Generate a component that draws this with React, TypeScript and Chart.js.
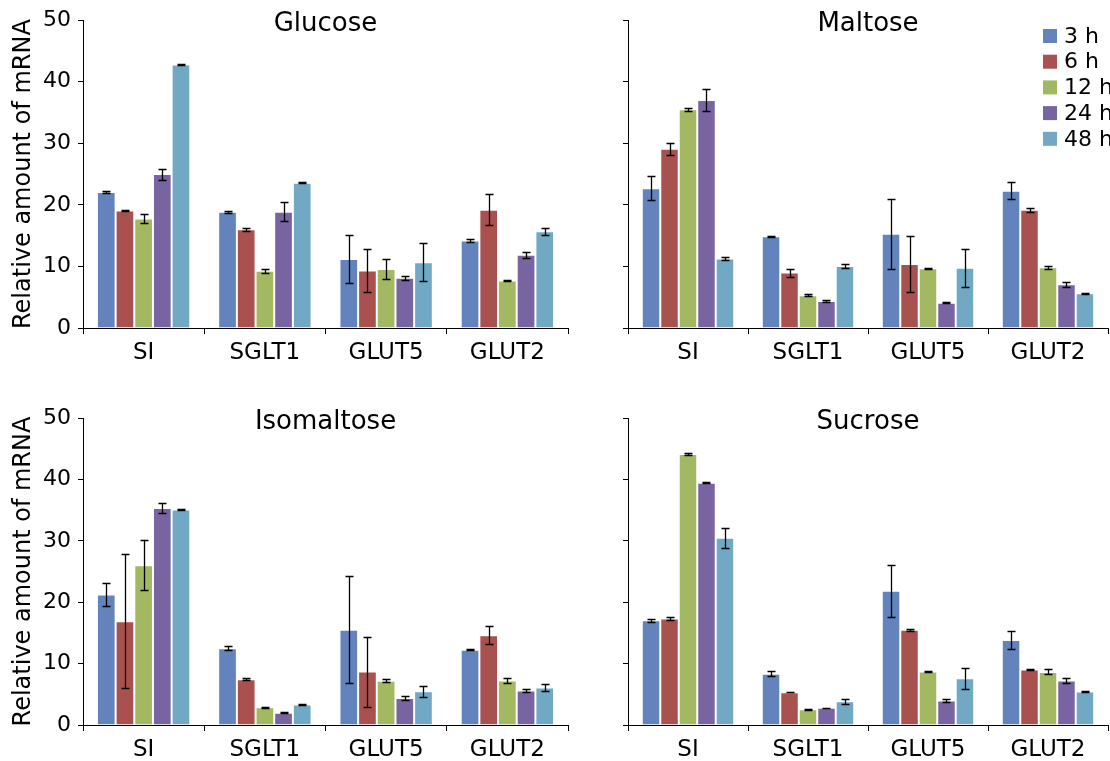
import React, { useEffect, useRef } from "react";
import { Chart, registerables } from "chart.js";

Chart.register(...registerables);

const FONT = "'DejaVu Sans', Verdana, sans-serif";

const genes = ["SI", "SGLT1", "GLUT5", "GLUT2"];
const timePoints = ["3 h", "6 h", "12 h", "24 h", "48 h"];
const seriesColors = ["#6283BC", "#A9514F", "#A3B961", "#7864A0", "#71A9C5"];
const yAxisTitle = "Relative amount of mRNA";
const yMin = 0;
const yMax = 50;
const yStep = 10;

// rows = time points (3, 6, 12, 24, 48 h); columns = genes (SI, SGLT1, GLUT5, GLUT2)
const glucoseMeans = [
  [22.1, 18.9, 11.2, 14.2],
  [19.1, 16.05, 9.35, 19.2],
  [17.8, 9.3, 9.6, 7.7],
  [25.0, 18.9, 8.15, 11.9],
  [42.8, 23.6, 10.7, 15.7],
];
const glucoseErrors = [
  [0.15, 0.15, 3.9, 0.3],
  [0.1, 0.25, 3.5, 2.5],
  [0.7, 0.35, 1.65, 0.1],
  [0.9, 1.55, 0.35, 0.5],
  [0.1, 0.1, 3.1, 0.6],
];

const maltoseMeans = [
  [22.7, 14.9, 15.3, 22.3],
  [29.1, 9.0, 10.4, 19.2],
  [35.5, 5.3, 9.7, 9.85],
  [37.0, 4.4, 4.1, 7.1],
  [11.3, 10.05, 9.8, 5.65],
];
const maltoseErrors = [
  [1.95, 0.05, 5.7, 1.4],
  [1.0, 0.65, 4.6, 0.35],
  [0.25, 0.15, 0.05, 0.27],
  [1.8, 0.15, 0.1, 0.4],
  [0.27, 0.35, 3.1, 0.1],
];

const isomaltoseMeans = [
  [21.25, 12.5, 15.5, 12.25],
  [16.9, 7.45, 8.7, 14.6],
  [26.0, 2.9, 7.2, 7.25],
  [35.35, 2.0, 4.4, 5.6],
  [35.1, 3.35, 5.5, 6.1],
];
const isomaltoseErrors = [
  [1.9, 0.3, 8.7, 0.1],
  [10.9, 0.15, 5.7, 1.45],
  [4.05, 0.05, 0.27, 0.4],
  [0.8, 0.05, 0.25, 0.27],
  [0.1, 0.05, 0.9, 0.5],
];

const sucroseMeans = [
  [17.05, 8.35, 21.85, 13.85],
  [17.35, 5.35, 15.5, 9.05],
  [44.15, 2.55, 8.7, 8.65],
  [39.45, 2.8, 4.0, 7.25],
  [30.5, 3.85, 7.6, 5.45],
];
const sucroseErrors = [
  [0.2, 0.43, 4.2, 1.45],
  [0.3, 0.05, 0.15, 0.15],
  [0.1, 0.1, 0.05, 0.4],
  [0.1, 0.05, 0.27, 0.45],
  [1.65, 0.38, 1.7, 0.05],
];

const errorBarPlugin = {
  id: "errorBars",
  afterDatasetsDraw(chart: any) {
    const ctx = chart.ctx;
    const yScale = chart.scales.y;
    ctx.save();
    ctx.strokeStyle = "#000";
    ctx.lineWidth = 1.3;
    chart.data.datasets.forEach((ds: any, di: number) => {
      const meta = chart.getDatasetMeta(di);
      meta.data.forEach((bar: any, i: number) => {
        const v = ds.data[i];
        const e = ds.errors ? ds.errors[i] : 0;
        const yTop = Math.round(yScale.getPixelForValue(v + e)) + 0.5;
        const yBot = Math.round(yScale.getPixelForValue(v - e)) + 0.5;
        const x = Math.round(bar.x) + 0.5;
        const cap = 4;
        ctx.beginPath();
        ctx.moveTo(x, yTop);
        ctx.lineTo(x, yBot);
        ctx.moveTo(x - cap, yTop);
        ctx.lineTo(x + cap, yTop);
        ctx.moveTo(x - cap, yBot);
        ctx.lineTo(x + cap, yBot);
        ctx.stroke();
      });
    });
    ctx.restore();
  },
};

const panelTitlePlugin = {
  id: "panelTitle",
  afterDraw(chart: any, _args: any, opts: any) {
    if (!opts || !opts.text) return;
    const ctx = chart.ctx;
    const area = chart.chartArea;
    ctx.save();
    ctx.fillStyle = "#000";
    ctx.font = `26px ${FONT}`;
    ctx.textAlign = "center";
    ctx.textBaseline = "middle";
    ctx.fillText(opts.text, (area.left + area.right) / 2, area.top + 4);
    ctx.restore();
  },
};

const sideLegendPlugin = {
  id: "sideLegend",
  afterDraw(chart: any, _args: any, opts: any) {
    if (!opts || !opts.show) return;
    const ctx = chart.ctx;
    const area = chart.chartArea;
    ctx.save();
    ctx.font = `22px ${FONT}`;
    ctx.textBaseline = "middle";
    ctx.textAlign = "left";
    const x0 = area.right - 65;
    const y0 = area.top + 16;
    const box = 14;
    const rowH = 25.7;
    chart.data.datasets.forEach((ds: any, i: number) => {
      const cy = y0 + i * rowH;
      ctx.fillStyle = ds.backgroundColor;
      ctx.fillRect(x0, cy - box / 2, box, box);
      ctx.fillStyle = "#000";
      ctx.fillText(ds.label, x0 + 21, cy + 1);
    });
    ctx.restore();
  },
};

type PanelProps = {
  title: string;
  means: number[][];
  errors: number[][];
  left: number;
  top: number;
  width: number;
  height: number;
  yWidth: number;
  padTop: number;
  xHeight: number;
  showYLabels: boolean;
  showLegend: boolean;
};

function Panel(p: PanelProps) {
  const ref = useRef<HTMLCanvasElement | null>(null);
  useEffect(() => {
    if (!ref.current) return;
    const chart = new Chart(ref.current, {
      type: "bar",
      data: {
        labels: genes,
        datasets: timePoints.map((tp, i) => ({
          label: tp,
          data: p.means[i],
          errors: p.errors[i],
          backgroundColor: seriesColors[i],
          borderColor: "rgba(255,255,255,0.45)",
          borderWidth: 1,
          borderSkipped: "bottom",
          categoryPercentage: 0.77,
          barPercentage: 1.0,
        })) as any,
      },
      options: {
        animation: false,
        responsive: false,
        devicePixelRatio: 1,
        layout: { padding: { left: 0, right: 2, top: p.padTop, bottom: 0 } },
        plugins: {
          legend: { display: false },
          title: { display: false },
          tooltip: { enabled: false },
          panelTitle: { text: p.title },
          sideLegend: { show: p.showLegend },
        } as any,
        scales: {
          x: {
            offset: true,
            grid: {
              display: true,
              offset: true,
              drawOnChartArea: false,
              drawTicks: true,
              tickLength: 6,
              color: "#000",
            },
            border: { display: true, color: "#000", width: 1 },
            ticks: {
              color: "#000",
              font: { family: FONT, size: 23 },
              padding: 5,
              maxRotation: 0,
              autoSkip: false,
            },
            afterFit: (s: any) => {
              s.height = p.xHeight;
            },
          },
          y: {
            min: yMin,
            max: yMax,
            grid: {
              display: true,
              drawOnChartArea: false,
              drawTicks: true,
              tickLength: 5,
              color: "#000",
            },
            border: { display: true, color: "#000", width: 1 },
            ticks: {
              display: p.showYLabels,
              stepSize: yStep,
              color: "#000",
              font: { family: FONT, size: 22 },
              padding: 7,
            },
            title: {
              display: p.showYLabels,
              text: yAxisTitle,
              color: "#000",
              font: { family: FONT, size: 24 },
              padding: { top: 9, bottom: 0 },
            },
            afterFit: (s: any) => {
              s.width = p.yWidth;
            },
          },
        },
      },
      plugins: [errorBarPlugin, panelTitlePlugin, sideLegendPlugin],
    } as any);
    return () => chart.destroy();
  }, []);
  return (
    <canvas
      ref={ref}
      width={p.width}
      height={p.height}
      style={{
        position: "absolute",
        left: p.left,
        top: p.top,
        width: p.width,
        height: p.height,
      }}
    />
  );
}

export default function App() {
  return (
    <div
      style={{
        position: "fixed",
        left: 0,
        top: 0,
        width: 1110,
        height: 761,
        background: "#fff",
        overflow: "hidden",
      }}
    >
      <Panel title="Glucose" means={glucoseMeans} errors={glucoseErrors}
        left={0} top={0} width={570} height={380} yWidth={83} padTop={20} xHeight={52}
        showYLabels={true} showLegend={false} />
      <Panel title="Maltose" means={maltoseMeans} errors={maltoseErrors}
        left={560} top={0} width={550} height={380} yWidth={68} padTop={20} xHeight={52}
        showYLabels={false} showLegend={true} />
      <Panel title="Isomaltose" means={isomaltoseMeans} errors={isomaltoseErrors}
        left={0} top={380} width={570} height={381} yWidth={83} padTop={38} xHeight={36}
        showYLabels={true} showLegend={false} />
      <Panel title="Sucrose" means={sucroseMeans} errors={sucroseErrors}
        left={560} top={380} width={550} height={381} yWidth={68} padTop={38} xHeight={36}
        showYLabels={false} showLegend={false} />
    </div>
  );
}
